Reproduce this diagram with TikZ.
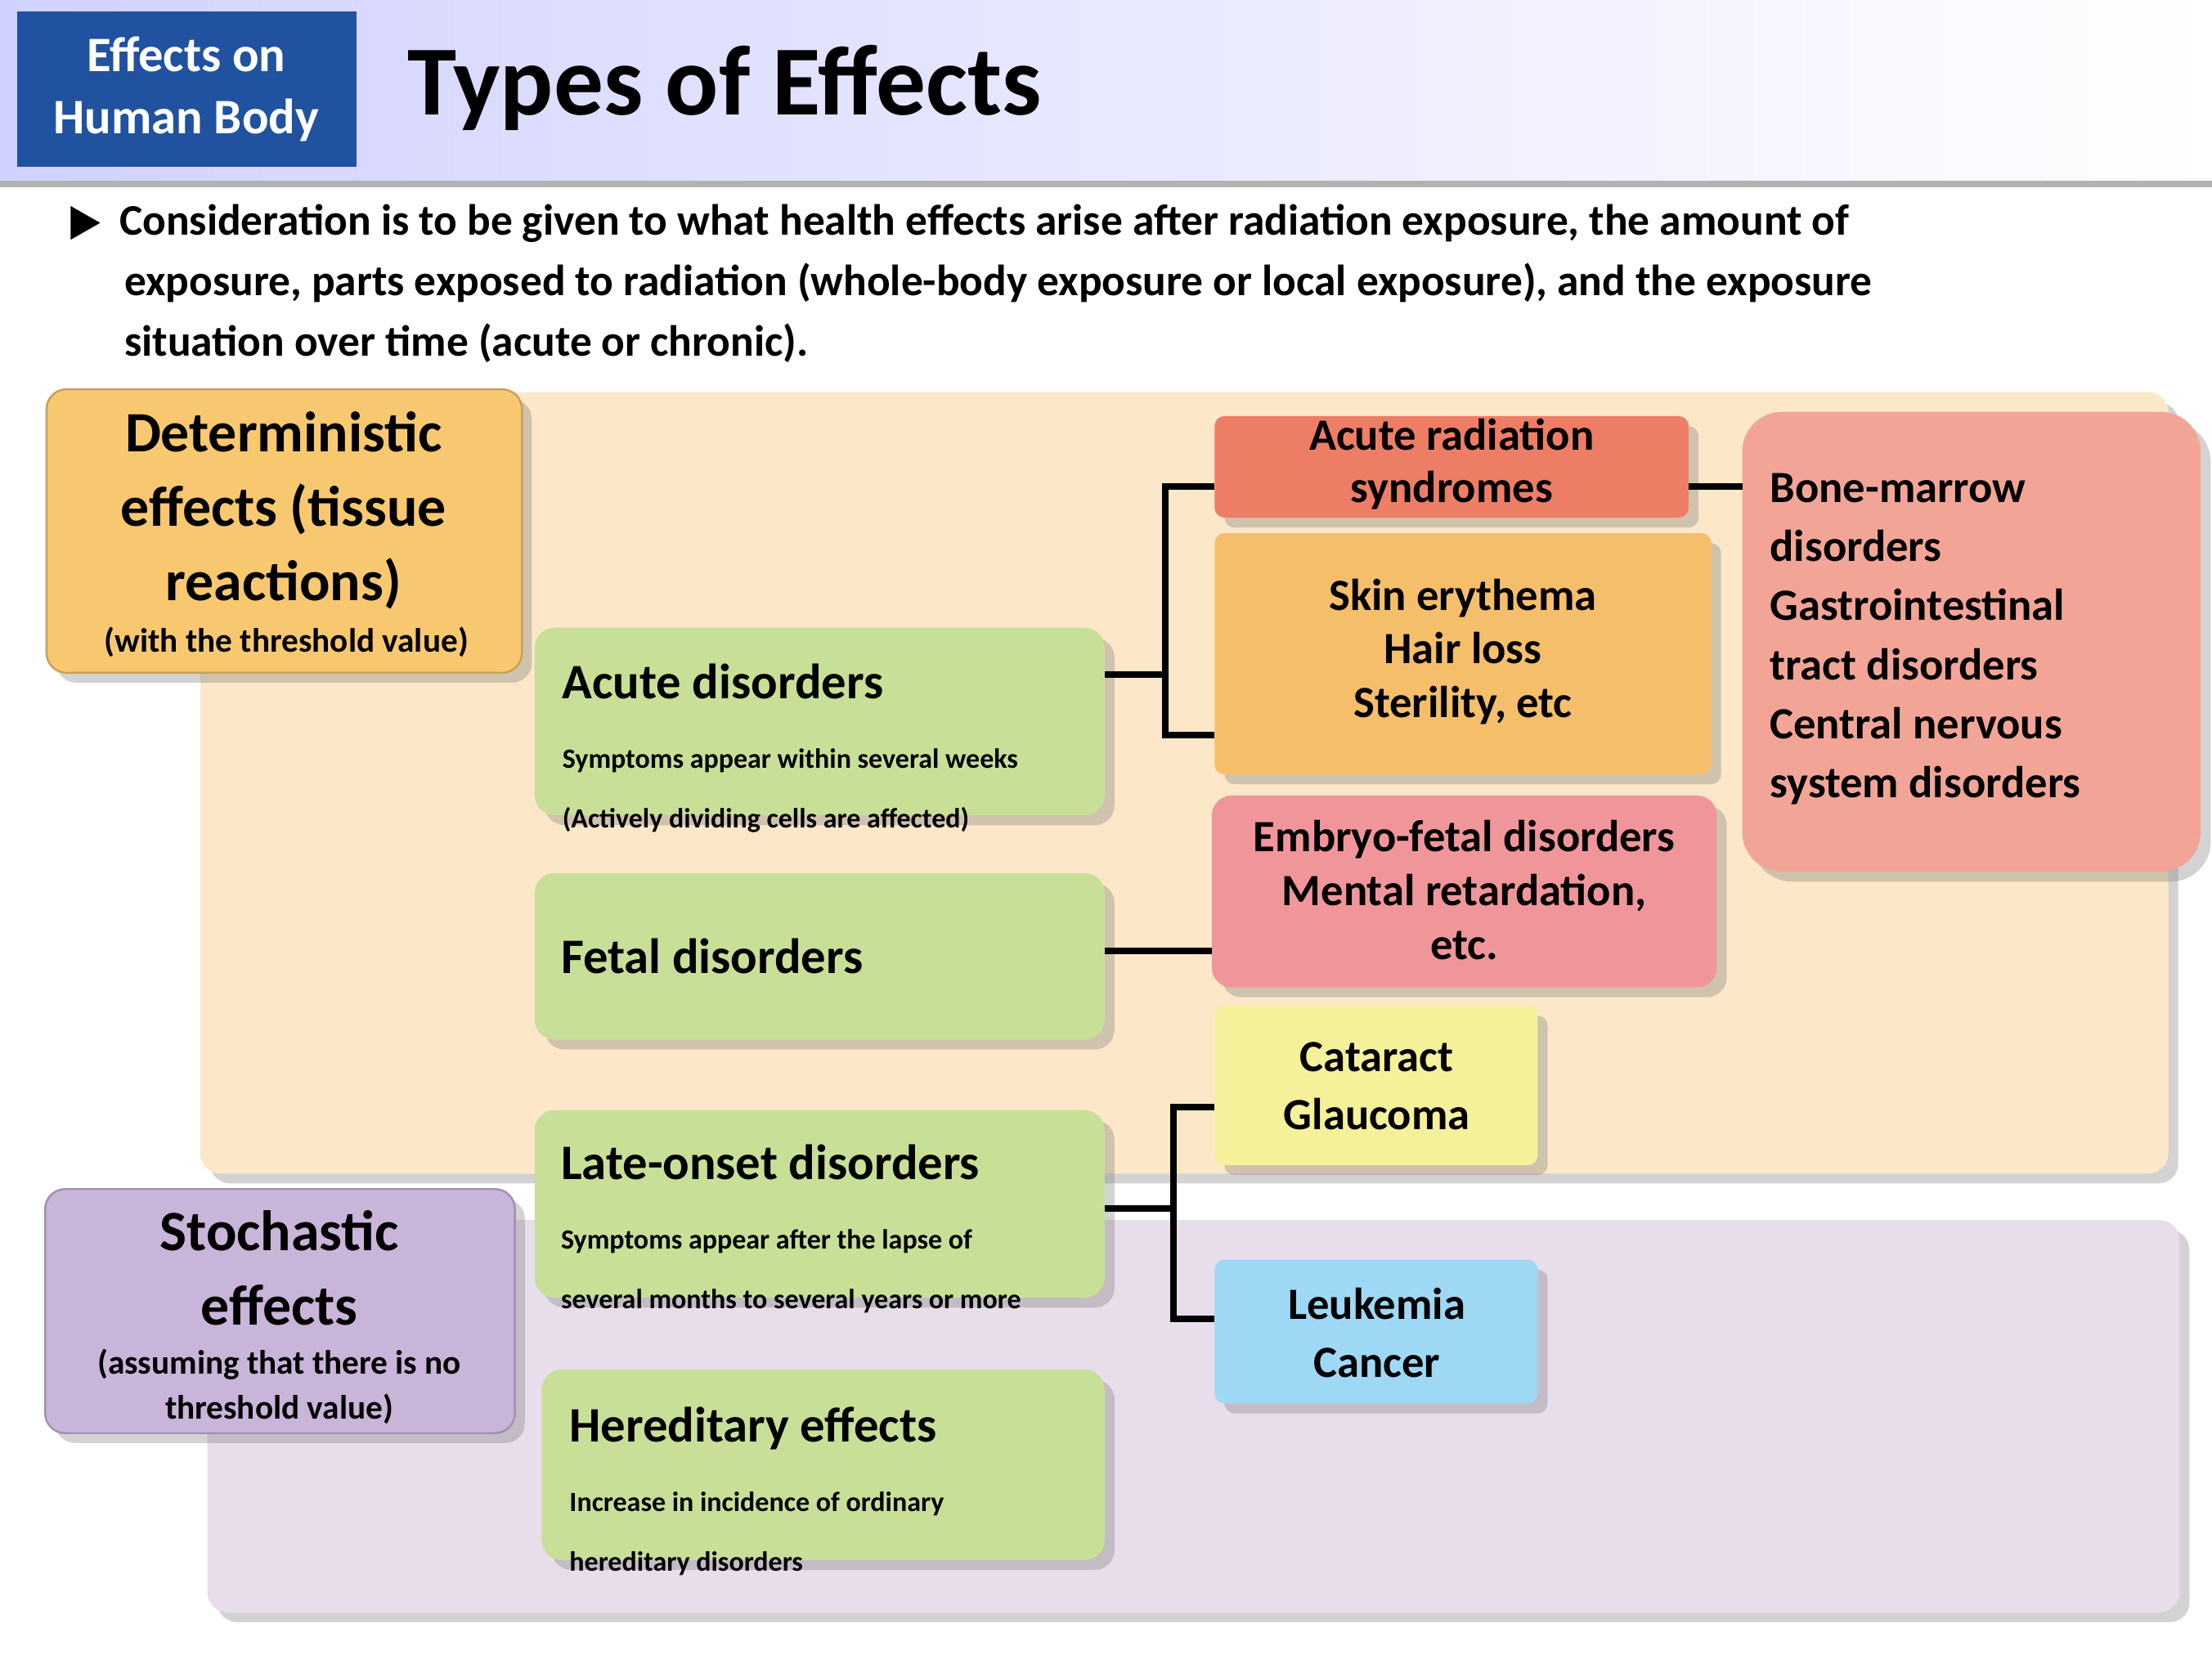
\documentclass[tikz,border=0pt]{standalone}
\usepackage{fontspec}
\setmainfont{Carlito}
\usetikzlibrary{shadows}
\definecolor{hdrblue}{RGB}{32,82,160}
\definecolor{beige}{RGB}{252,232,200}
\definecolor{lav}{RGB}{232,221,235}
\definecolor{detc}{RGB}{248,200,112}
\definecolor{stoc}{RGB}{201,181,217}
\definecolor{grn}{RGB}{200,223,152}
\definecolor{ars}{RGB}{238,125,102}
\definecolor{skin}{RGB}{245,190,106}
\definecolor{emb}{RGB}{240,150,154}
\definecolor{cat}{RGB}{245,240,154}
\definecolor{leu}{RGB}{158,216,244}
\definecolor{bone}{RGB}{242,165,150}
\begin{document}
\begin{tikzpicture}[x=0.01cm,y=-0.01cm,
 box/.style={rounded corners=4pt,drop shadow={shadow xshift=2pt,shadow yshift=-2pt,opacity=0.35}},
 conn/.style={line width=1.3pt},
 txt/.style={font=\bfseries,align=center,inner sep=0pt}]
\useasboundingbox (0,0) rectangle (1568,1176);
\shade[left color=blue!18,right color=white] (0,0) rectangle (1568,128);
\fill[gray!60] (0,128) rectangle (1568,133);
\fill[hdrblue] (12,8) rectangle (253,118);
\node[txt,text=white,font=\bfseries\fontsize{10}{12.5}\selectfont] (hdr) at (132,63) {Effects on\\Human Body};
\node[txt,anchor=west,font=\bfseries\fontsize{20}{24}\selectfont] (title) at (288,62) {Types of Effects};
\fill (50,146) -- (71,158) -- (50,170) -- cycle;
\node[anchor=north west,inner sep=0pt,align=left,font=\bfseries\fontsize{8.8}{12.2}\selectfont] (intro) at (84,144)
 {Consideration is to be given to what health effects arise after radiation exposure, the amount of\\
 \hspace*{1pt}exposure, parts exposed to radiation (whole-body exposure or local exposure), and the exposure\\
 \hspace*{1pt}situation over time (acute or chronic).};
% regions
\fill[beige,box] (142,278) rectangle (1537,832);
\fill[lav,box] (147,865) rectangle (1545,1143);
% category boxes
\draw[detc!80!black,fill=detc,box] (33,276) rectangle (370,477);
\node[txt,font=\bfseries\fontsize{11.5}{15}\selectfont] (det) at (201,362) {Deterministic\\effects (tissue\\reactions)};
\node[txt,font=\bfseries\fontsize{6.8}{8}\selectfont] (detsub) at (203,455) {(with the threshold value)};
\draw[stoc!80!black,fill=stoc,box] (32,843) rectangle (365,1016);
\node[txt,font=\bfseries\fontsize{11.5}{15}\selectfont] (sto) at (198,899) {Stochastic\\effects};
\node[txt,font=\bfseries\fontsize{6.8}{9.2}\selectfont] (stosub) at (198,983) {(assuming that there is no\\threshold value)};
% green
\fill[grn,box] (379,445) rectangle (783,578);
\node[anchor=north west,inner sep=0pt,align=left] (acute) at (398,470) {\bfseries\fontsize{10}{12}\selectfont Acute disorders\\[2pt]\bfseries\fontsize{5.6}{7.4}\selectfont Symptoms appear within several weeks\\\bfseries\fontsize{5.6}{7.4}\selectfont(Actively dividing cells are affected)};
\fill[grn,box] (379,619) rectangle (783,737);
\node[anchor=west,inner sep=0pt,font=\bfseries\fontsize{10}{12}\selectfont] (fetal) at (397,678) {Fetal disorders};
\fill[grn,box] (379,787) rectangle (783,920);
\node[anchor=north west,inner sep=0pt,align=left] (late) at (397,811) {\bfseries\fontsize{10}{12}\selectfont Late-onset disorders\\[2pt]\bfseries\fontsize{5.6}{7.4}\selectfont Symptoms appear after the lapse of\\\bfseries\fontsize{5.6}{7.4}\selectfont several months to several years or more};
\fill[grn,box] (384,971) rectangle (783,1106);
\node[anchor=north west,inner sep=0pt,align=left] (her) at (403,997) {\bfseries\fontsize{10}{12}\selectfont Hereditary effects\\[2pt]\bfseries\fontsize{5.6}{7.4}\selectfont Increase in incidence of ordinary\\\bfseries\fontsize{5.6}{7.4}\selectfont hereditary disorders};
% right boxes
\fill[ars,box,rounded corners=2pt] (861,295) rectangle (1197,367);
\node[txt,font=\bfseries\fontsize{9}{10.5}\selectfont] (arsn) at (1029,329) {Acute radiation\\syndromes};
\fill[skin,box,rounded corners=2pt] (861,378) rectangle (1213,549);
\node[txt,font=\bfseries\fontsize{9}{10.8}\selectfont] (skinn) at (1037,462) {Skin erythema\\Hair loss\\Sterility, etc};
\fill[emb,box] (859,564) rectangle (1217,700);
\node[txt,font=\bfseries\fontsize{9}{10.8}\selectfont] (embn) at (1038,631) {Embryo-fetal disorders\\Mental retardation,\\etc.};
\fill[cat,box,rounded corners=2pt] (861,713) rectangle (1090,826);
\node[txt,font=\bfseries\fontsize{9}{11.8}\selectfont] (catn) at (976,770) {Cataract\\Glaucoma};
\fill[leu,box,rounded corners=2pt] (861,893) rectangle (1090,995);
\node[txt,font=\bfseries\fontsize{9}{11.8}\selectfont] (leun) at (976,945) {Leukemia\\Cancer};
\fill[bone,box,rounded corners=8pt] (1235,292) rectangle (1560,618);
\node[anchor=north west,inner sep=0pt,align=left,font=\bfseries\fontsize{9}{11.9}\selectfont] (bonen) at (1254,335) {Bone-marrow\\disorders\\Gastrointestinal\\tract disorders\\Central nervous\\system disorders};
% connectors
\draw[conn] (783,478) -- (826,478);
\draw[conn] (861,345) -- (826,345) -- (826,521) -- (861,521);
\draw[conn] (1197,345) -- (1235,345);
\draw[conn] (783,674) -- (859,674);
\draw[conn] (783,857) -- (832,857);
\draw[conn] (861,785) -- (832,785) -- (832,935) -- (861,935);
\end{tikzpicture}
\end{document}
